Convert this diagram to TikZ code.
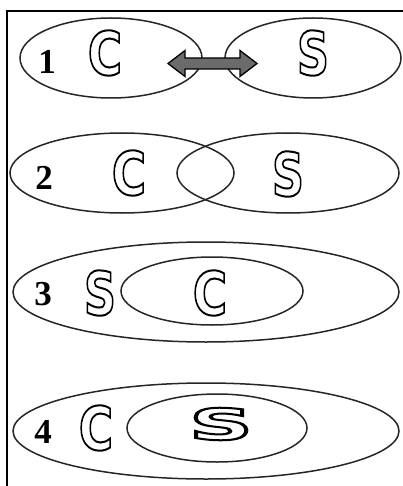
\documentclass[tikz,border=0pt]{standalone}
\usepackage{fontspec}
\setmainfont{Liberation Serif}
\newfontfamily\letterfont{DejaVu Sans}
\newcommand{\hollow}[1]{\special{pdf:literal 1 Tr 2 w}#1\special{pdf:literal 0 Tr}}
\begin{document}
\begin{tikzpicture}[x=1pt,y=-1pt,
  ring/.style={draw=black!85,line width=1.5pt},
  numlabel/.style={inner sep=0,font=\fontsize{35}{35}\selectfont\bfseries},
  letterC/.style={inner sep=0,font=\fontsize{60}{60}\selectfont\letterfont\bfseries,xscale=0.78},
  letterS/.style={inner sep=0,font=\fontsize{60}{60}\selectfont\letterfont\bfseries,xscale=0.74},
  wideS/.style={inner sep=0,font=\fontsize{43}{43}\selectfont\letterfont\bfseries,xscale=2.05}]
\useasboundingbox (0,0) rectangle (403,486);
\fill[white] (0,0) rectangle (403,486);
% frame
\draw[line width=1.6pt] (7,486) -- (7,11) -- (403,11);
% row 1
\draw[ring] (111,58) ellipse [x radius=91,y radius=40];
\draw[ring] (313,58) ellipse [x radius=88,y radius=40];
\node[numlabel] (n1) at (47,62) {1};
\node[letterC] (c1) at (105,53) {\hollow{C}};
\node[letterS] (s1) at (313,53) {\hollow{S}};
\draw[line width=1.3pt,fill=black!58] (168,63.5) -- (185,50.5) -- (185,58) -- (240,58) -- (240,50.5)
  -- (257,63.5) -- (240,76.5) -- (240,69) -- (185,69) -- (185,76.5) -- cycle;
% row 2
\draw[ring] (122,173) ellipse [x radius=112,y radius=40];
\draw[ring] (288,173) ellipse [x radius=111,y radius=40];
\node[numlabel] (n2) at (44,178) {2};
\node[letterC] (c2) at (129,173) {\hollow{C}};
\node[letterS] (s2) at (288,174) {\hollow{S}};
% row 3
\draw[ring] (206,292) ellipse [x radius=193,y radius=50];
\draw[ring] (212,291) ellipse [x radius=91,y radius=34];
\node[numlabel] (n3) at (43,294) {3};
\node[letterS] (s3) at (100,293) {\hollow{S}};
\node[letterC] (c3) at (210,293) {\hollow{C}};
% row 4
\draw[ring] (206,431) ellipse [x radius=193,y radius=48];
\draw[ring] (217,428) ellipse [x radius=90,y radius=34];
\node[numlabel] (n4) at (43,432) {4};
\node[letterC] (c4) at (96,428) {\hollow{C}};
\node[wideS] (s4) at (221,424) {\hollow{S}};
\end{tikzpicture}
\end{document}
